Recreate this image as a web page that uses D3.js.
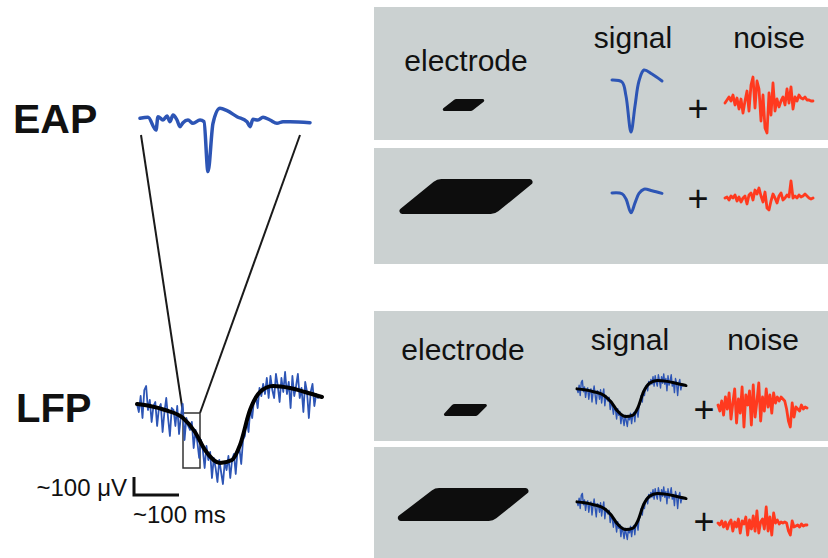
<!DOCTYPE html>
<html>
<head>
<meta charset="utf-8">
<script src="https://cdn.jsdelivr.net/npm/d3@7"></script>
<style>
  body { margin: 0; background: #fff; }
  text { font-family: "Liberation Sans", Arial, sans-serif; fill: #111; }
</style>
</head>
<body>
<svg id="fig" width="828" height="558"></svg>
<script>
// ---- data ----
const rowLabels = ['EAP', 'LFP'];
const columnLabels = ['electrode', 'signal', 'noise'];
const scaleLabels = ['~100 \u03bcV', '~100 ms'];

// extracellular action potential, time in ms, value in a.u. (up = positive)
const eapTime  = [0, 8, 16, 18, 23, 27, 30, 33, 37, 40, 43, 48, 53, 60, 64, 68, 73, 80, 87, 97, 107, 110, 113, 118, 123, 130, 137, 143, 150, 170];
const eapValue = [5, 8, -30, 10, 0, 12, -5, 15, 0, -20, -8, 0, -10, 0, -5, -155, -10, 35, 28, 10, -5, -20, 2, 0, 8, 0, -10, -5, -5, -8];

// isolated spike shown in the "signal" column
const spikeTime  = [0, 10, 14, 19, 23, 27, 32, 40, 50];
const spikeValue = [0, -2, -16, -52, -26, -1, 10, 6, -1];

// local field potential: smooth average and noisy raw trace
const lfpTime   = [0, 13, 28, 46, 58, 68, 83, 95, 103, 113, 123, 136, 153, 168, 185];
const lfpSmooth = [-4, -6, -10, -18, -32, -50, -63, -60, -45, -10, 8, 14, 12, 8, 3];
const lfpRaw = [
  -4, -12, 4, -18, 10, 14, -10, 0, -22, -6,
  -2, -26, -8, -4, -32, -12, 2, -18, -36, -8,
  -10, -26, -6, -34, -16, -4, -40, -18, -26, -30,
  -22, -48, -30, -42, -58, -40, -50, -68, -46, -60,
  -52, -78, -58, -68, -82, -60, -72, -84, -62, -70,
  -56, -78, -60, -54, -74, -50, -48, -64, -40, -36,
  -18, -32, -8, -18, 0, 4, -8, 12, 4, 16,
  6, 22, 2, 24, 10, 2, 26, 14, -2, 22,
  8, 28, 6, 18, -8, 24, 4, 14, 26, 2,
  12, -12, 18, 8, -18, 8, 16, -6, 6, 2];

// noise traces
const noiseEapSmall = [0, 3, 6, 2, 8, -2, 5, -6, 4, -10, 2, 12, -8, 18, 26, -5, 22, 14, -18, 8, -25, -30, 10, -12, 20,
  -8, 4, -4, 2, 6, -2, 14, 0, 16, -6, 6, 2, 8, 5, 4, 6, 3, 3, 2, 2];
const noiseEapLarge = [0, 1, -2, 2, 0, 3, -3, 1, -4, 0, 2, -6, 3, 5, -2, 8, 4, 10, 2, -4, 6, -10, -12, -3, 4,
  0, -5, 2, 5, -2, 0, 3, 1, 17, 0, 2, 0, 3, 1, 2, 4, 2, 0, -1, 0];
const noiseLfpSmall = [2, -4, 6, -8, 10, -2, 14, -12, 4, 18, -16, 8, -6, 20, -20, 12, 2, 16, -18, 22, -10, 6, 24, -14, 10,
  -4, 18, 0, 12, -6, 14, 4, 10, 6, 10, 8, 6, -2, -14, -20, 4, -10, 0, -2, -4, 2, -2, 0, -1];
const noiseLfpLarge = [2, 0, 4, -2, 3, -4, 2, 5, -6, 3, -2, 6, -8, 4, 1, 8, -10, 5, -4, 9, -6, 14, -8, 3, 6,
  -4, 18, -6, 8, -10, 12, 2, 5, 1, 3, 2, 3, 2, -6, -10, 4, -2, -1, 0, -2, 1, -1, 0, 0];

// ---- drawing ----
const BLUE = '#2d55b5';
const RED = '#ff3a1f';
const GREY = '#cbd1d1';

const svg = d3.select('#fig');

function drawTrace(parent, xs, ys, box, style) {
  const x = d3.scaleLinear().domain(d3.extent(xs)).range([box.x0, box.x1]);
  const y = d3.scaleLinear().domain([0, 1]).range([box.base, box.base - box.k]);
  const line = d3.line()
    .x((d, i) => x(xs[i]))
    .y(d => y(d))
    .curve(style.curve || d3.curveLinear);
  parent.append('path')
    .attr('d', line(ys))
    .attr('fill', 'none')
    .attr('stroke', style.color)
    .attr('stroke-width', style.width)
    .attr('stroke-linejoin', 'round')
    .attr('stroke-linecap', 'round');
}

const idx = arr => arr.map((d, i) => i);

function electrode(parent, c, rObtuse, rAcute) {
  // c = [topLeft, topRight, bottomRight, bottomLeft]
  const p = d3.path();
  p.moveTo((c[0][0] + c[1][0]) / 2, c[0][1]);
  p.arcTo(c[1][0], c[1][1], c[2][0], c[2][1], rAcute);
  p.arcTo(c[2][0], c[2][1], c[3][0], c[3][1], rObtuse);
  p.arcTo(c[3][0], c[3][1], c[0][0], c[0][1], rAcute);
  p.arcTo(c[0][0], c[0][1], c[1][0], c[1][1], rObtuse);
  p.closePath();
  parent.append('path').attr('d', p.toString()).attr('fill', '#0d0d0d');
}

function plus(parent, cx, cy) {
  parent.append('text')
    .attr('x', cx).attr('y', cy + 13)
    .attr('text-anchor', 'middle')
    .attr('font-size', 36)
    .text('+');
}

// grey panels
const panels = [[7, 140], [148, 264], [311, 441], [447, 558]];
svg.selectAll('rect.panel')
  .data(panels)
  .join('rect')
  .attr('class', 'panel')
  .attr('x', 374).attr('y', d => d[0])
  .attr('width', 454).attr('height', d => d[1] - d[0])
  .attr('fill', GREY);

// row labels
svg.selectAll('text.row')
  .data(rowLabels)
  .join('text')
  .attr('class', 'row')
  .attr('x', (d, i) => i === 0 ? 13 : 16)
  .attr('y', (d, i) => i === 0 ? 133 : 422)
  .attr('font-size', (d, i) => i === 0 ? 41 : 40)
  .attr('font-weight', 'bold')
  .text(d => d);

// column headers for EAP and LFP panels
const headerX = [[466, 633, 769], [463, 630, 763]];
const headerY = [[71, 48, 48], [360, 350, 350]];
[0, 1].forEach(r => {
  svg.append('g').selectAll('text')
    .data(columnLabels)
    .join('text')
    .attr('x', (d, i) => headerX[r][i])
    .attr('y', (d, i) => headerY[r][i])
    .attr('text-anchor', 'middle')
    .attr('font-size', 30)
    .text(d => d);
});

// zoom lines + box
const g = svg.append('g');
g.append('line').attr('x1', 141).attr('y1', 135).attr('x2', 183).attr('y2', 413)
  .attr('stroke', '#1a1a1a').attr('stroke-width', 2);
g.append('line').attr('x1', 300).attr('y1', 135).attr('x2', 200).attr('y2', 413)
  .attr('stroke', '#1a1a1a').attr('stroke-width', 2);

// EAP trace
drawTrace(svg, eapTime, eapValue, { x0: 140, x1: 310, base: 120, k: 0.333 },
  { color: BLUE, width: 3.5, curve: d3.curveMonotoneX });

// LFP traces
drawTrace(svg, idx(lfpRaw), lfpRaw, { x0: 137, x1: 318, base: 400, k: 1 },
  { color: BLUE, width: 1.8 });
drawTrace(svg, lfpTime, lfpSmooth, { x0: 137, x1: 322, base: 400, k: 1 },
  { color: '#000', width: 4, curve: d3.curveMonotoneX });

g.append('rect').attr('x', 183).attr('y', 413).attr('width', 17).attr('height', 55)
  .attr('fill', 'none').attr('stroke', '#333').attr('stroke-width', 1.5);

// scale bar
svg.append('path').attr('d', 'M134,477V495H179')
  .attr('fill', 'none').attr('stroke', '#111').attr('stroke-width', 3);
svg.append('text').attr('x', 127).attr('y', 496).attr('text-anchor', 'end')
  .attr('font-size', 24).text(scaleLabels[0]);
svg.append('text').attr('x', 133).attr('y', 523)
  .attr('font-size', 24).text(scaleLabels[1]);

// electrodes
electrode(svg, [[455, 99], [487, 99], [472, 111], [440, 111]], 4, 1.5);
electrode(svg, [[437, 179], [538, 179], [495, 214], [394, 214]], 12, 3);
electrode(svg, [[453, 404], [489, 404], [477, 416], [442, 416]], 4, 1.5);
electrode(svg, [[435, 488], [534, 488], [493, 521], [392, 521]], 12, 3);

// EAP panels: spike signal + noise
drawTrace(svg, spikeTime, spikeValue, { x0: 612, x1: 662, base: 80, k: 1 },
  { color: BLUE, width: 3, curve: d3.curveCatmullRom });
drawTrace(svg, spikeTime, spikeValue, { x0: 612, x1: 662, base: 193, k: 0.38 },
  { color: BLUE, width: 3, curve: d3.curveCatmullRom });
plus(svg, 698, 108);
plus(svg, 698, 198);
drawTrace(svg, idx(noiseEapSmall), noiseEapSmall, { x0: 725, x1: 813, base: 103, k: 1 },
  { color: RED, width: 2.8 });
drawTrace(svg, idx(noiseEapLarge), noiseEapLarge, { x0: 725, x1: 813, base: 198, k: 1 },
  { color: RED, width: 2.8 });

// LFP panels: scaled LFP signal + noise
[387, 500].forEach(base => {
  drawTrace(svg, idx(lfpRaw), lfpRaw, { x0: 577, x1: 683, base: base, k: 0.47 },
    { color: BLUE, width: 1.4 });
  drawTrace(svg, lfpTime, lfpSmooth, { x0: 577, x1: 686, base: base, k: 0.47 },
    { color: '#000', width: 3, curve: d3.curveMonotoneX });
});
plus(svg, 704, 409);
plus(svg, 704, 521);
drawTrace(svg, idx(noiseLfpSmall), noiseLfpSmall, { x0: 718, x1: 807, base: 407, k: 1 },
  { color: RED, width: 2.8 });
drawTrace(svg, idx(noiseLfpLarge), noiseLfpLarge, { x0: 718, x1: 807, base: 525, k: 1 },
  { color: RED, width: 2.8 });
</script>
</body>
</html>
